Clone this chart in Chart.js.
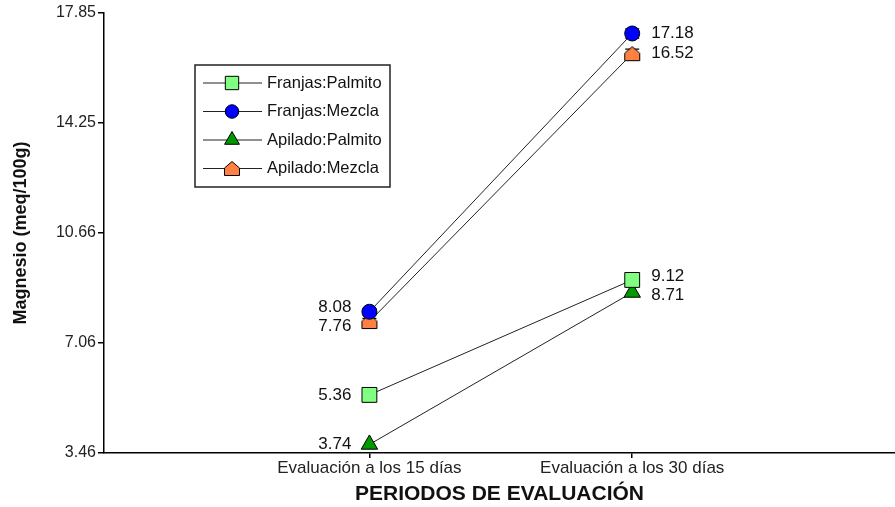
<!DOCTYPE html>
<html>
<head>
<meta charset="utf-8">
<script src="https://cdn.jsdelivr.net/npm/chart.js@4/dist/chart.umd.min.js"></script>
<style>
  body { margin: 0; background: #fff; }
</style>
</head>
<body>
<canvas id="myChart" width="895" height="507"></canvas>
<script>
// datos
var periodos = ['Evaluación a los 15 días', 'Evaluación a los 30 días'];
var franjasPalmito = [5.36, 9.12];
var franjasMezcla = [8.08, 17.18];
var apiladoPalmito = [3.74, 8.71];
var apiladoMezcla = [7.76, 16.52];
var errFranjasMezcla = [0.1, 0.15];
var errApiladoMezcla = [0.1, 0.15];
var yTicks = [3.46, 7.06, 10.66, 14.25, 17.85];

var FONT = "'Liberation Sans', Arial, sans-serif";

// marcador tipo "casita" para Apilado:Mezcla
function makeHouse() {
    var c = document.createElement('canvas');
    c.width = 18; c.height = 17;
    var g = c.getContext('2d');
    g.beginPath();
    g.moveTo(1.5, 15.5);
    g.lineTo(1.5, 8);
    g.lineTo(9, 1.5);
    g.lineTo(16.5, 8);
    g.lineTo(16.5, 15.5);
    g.closePath();
    g.fillStyle = '#FF8040';
    g.fill();
    g.lineWidth = 1;
    g.strokeStyle = '#000';
    g.stroke();
    return c;
}
var house = makeHouse();

function toPoints(arr) {
    return arr.map(function(v, i) { return {x: i + 1, y: v}; });
}

var serie = function(label, values, color, style, radius, errs) {
    return {
        label: label,
        data: toPoints(values),
        errs: errs || null,
        borderColor: '#222',
        borderWidth: 1,
        pointStyle: style,
        pointRadius: radius,
        pointBackgroundColor: color,
        pointBorderColor: '#000',
        pointBorderWidth: 1,
        tension: 0,
        clip: false
    };
};

var errorBars = {
    id: 'errorBars',
    beforeDatasetsDraw: function(chart) {
        var ctx = chart.ctx, ys = chart.scales.y;
        ctx.save();
        ctx.strokeStyle = '#000';
        ctx.lineWidth = 1.2;
        chart.data.datasets.forEach(function(ds, di) {
            if (!ds.errs) return;
            var meta = chart.getDatasetMeta(di);
            meta.data.forEach(function(pt, i) {
                var v = ds.data[i].y, e = ds.errs[i];
                var top = ys.getPixelForValue(v + e), bot = ys.getPixelForValue(v - e);
                ctx.beginPath();
                ctx.moveTo(pt.x, top); ctx.lineTo(pt.x, bot);
                ctx.moveTo(pt.x - 7, top); ctx.lineTo(pt.x + 7, top);
                ctx.moveTo(pt.x - 7, bot); ctx.lineTo(pt.x + 7, bot);
                ctx.stroke();
            });
        });
        ctx.restore();
    }
};

var valueLabels = {
    id: 'valueLabels',
    afterDatasetsDraw: function(chart) {
        var ctx = chart.ctx;
        ctx.save();
        ctx.font = '17px ' + FONT;
        ctx.fillStyle = '#111';
        ctx.textBaseline = 'middle';
        for (var i = 0; i < periodos.length; i++) {
            var items = [];
            chart.data.datasets.forEach(function(ds, di) {
                var pt = chart.getDatasetMeta(di).data[i];
                items.push({x: pt.x, y: pt.y, text: ds.data[i].y.toFixed(2)});
            });
            items.sort(function(a, b) { return a.y - b.y; });
            // separar etiquetas que se pisan
            for (var k = 1; k < items.length; k++) {
                var gap = items[k].y - items[k - 1].y;
                if (gap < 19) {
                    var d = (19 - gap) / 2;
                    items[k - 1].y -= d;
                    items[k].y += d;
                }
            }
            items.forEach(function(it) {
                if (i === 0) {
                    ctx.textAlign = 'right';
                    ctx.fillText(it.text, it.x - 18, it.y);
                } else {
                    ctx.textAlign = 'left';
                    ctx.fillText(it.text, it.x + 19, it.y);
                }
            });
        }
        ctx.restore();
    }
};

var boxLegend = {
    id: 'boxLegend',
    afterDraw: function(chart) {
        var ctx = chart.ctx;
        var bx = 195, by = 65, bw = 195, bh = 122;
        ctx.save();
        ctx.fillStyle = '#fff';
        ctx.fillRect(bx, by, bw, bh);
        ctx.strokeStyle = '#222';
        ctx.lineWidth = 1.5;
        ctx.strokeRect(bx, by, bw, bh);
        ctx.font = '16.5px ' + FONT;
        ctx.textAlign = 'left';
        ctx.textBaseline = 'middle';
        chart.data.datasets.forEach(function(ds, i) {
            var y = by + 18 + i * 28.5;
            ctx.strokeStyle = '#222';
            ctx.lineWidth = 1;
            ctx.beginPath();
            ctx.moveTo(bx + 8, y); ctx.lineTo(bx + 67, y);
            ctx.stroke();
            ctx.fillStyle = ds.pointBackgroundColor;
            ctx.strokeStyle = '#000';
            Chart.helpers.drawPoint(ctx, {pointStyle: ds.pointStyle, radius: ds.pointRadius * 0.9, borderWidth: 1, rotation: 0}, bx + 37, y);
            ctx.fillStyle = '#111';
            ctx.fillText(ds.label, bx + 72, y);
        });
        ctx.restore();
    }
};

var ctx = document.getElementById('myChart').getContext('2d');
var chart = new Chart(ctx, {
    type: 'line',
    data: {
        datasets: [
            serie('Franjas:Palmito', franjasPalmito, '#80FF80', 'rect', 10.5),
            serie('Franjas:Mezcla', franjasMezcla, '#0000FF', 'circle', 7.5, errFranjasMezcla),
            serie('Apilado:Palmito', apiladoPalmito, '#009900', 'triangle', 9.5),
            serie('Apilado:Mezcla', apiladoMezcla, '#FF8040', house, 8.5, errApiladoMezcla)
        ]
    },
    options: {
        responsive: false,
        animation: false,
        layout: {autoPadding: false, padding: {top: 13, right: 0, left: 0, bottom: 0}},
        plugins: {legend: {display: false}, tooltip: {enabled: false}},
        scales: {
            x: {
                type: 'linear',
                min: -0.01,
                max: 3,
                afterBuildTicks: function(axis) {
                    axis.ticks = periodos.map(function(p, i) { return {value: i + 1}; });
                },
                afterFit: function(axis) {
                    axis.height = 54;
                    axis.paddingLeft = 0;
                    axis.paddingRight = 0;
                },
                ticks: {
                    autoSkip: false,
                    maxRotation: 0,
                    padding: 0,
                    color: '#222',
                    font: {family: FONT, size: 17},
                    callback: function(v) { return periodos[v - 1]; }
                },
                grid: {drawOnChartArea: false, drawTicks: true, tickLength: 5, color: '#000', lineWidth: 1.5},
                border: {display: true, color: '#000', width: 1.5},
                title: {
                    display: true,
                    text: 'PERIODOS DE EVALUACIÓN',
                    color: '#111',
                    font: {family: FONT, size: 21, weight: 'bold'},
                    padding: {top: 0, bottom: 0}
                }
            },
            y: {
                type: 'linear',
                min: yTicks[0],
                max: yTicks[yTicks.length - 1],
                afterBuildTicks: function(axis) {
                    axis.ticks = yTicks.map(function(v) { return {value: v}; });
                },
                afterFit: function(axis) {
                    axis.width = 104;
                    axis.paddingTop = 0;
                    axis.paddingBottom = 0;
                },
                ticks: {
                    autoSkip: false,
                    padding: 2,
                    color: '#222',
                    font: {family: FONT, size: 16},
                    callback: function(v) { return v.toFixed(2); }
                },
                grid: {drawOnChartArea: false, drawTicks: true, tickLength: 6, color: '#000', lineWidth: 1.5},
                border: {display: true, color: '#000', width: 1.5},
                title: {
                    display: true,
                    text: 'Magnesio (meq/100g)',
                    color: '#111',
                    font: {family: FONT, size: 18, weight: 'bold'},
                    padding: {top: 10, bottom: 0}
                }
            }
        }
    },
    plugins: [errorBars, valueLabels, boxLegend]
});
</script>
</body>
</html>
